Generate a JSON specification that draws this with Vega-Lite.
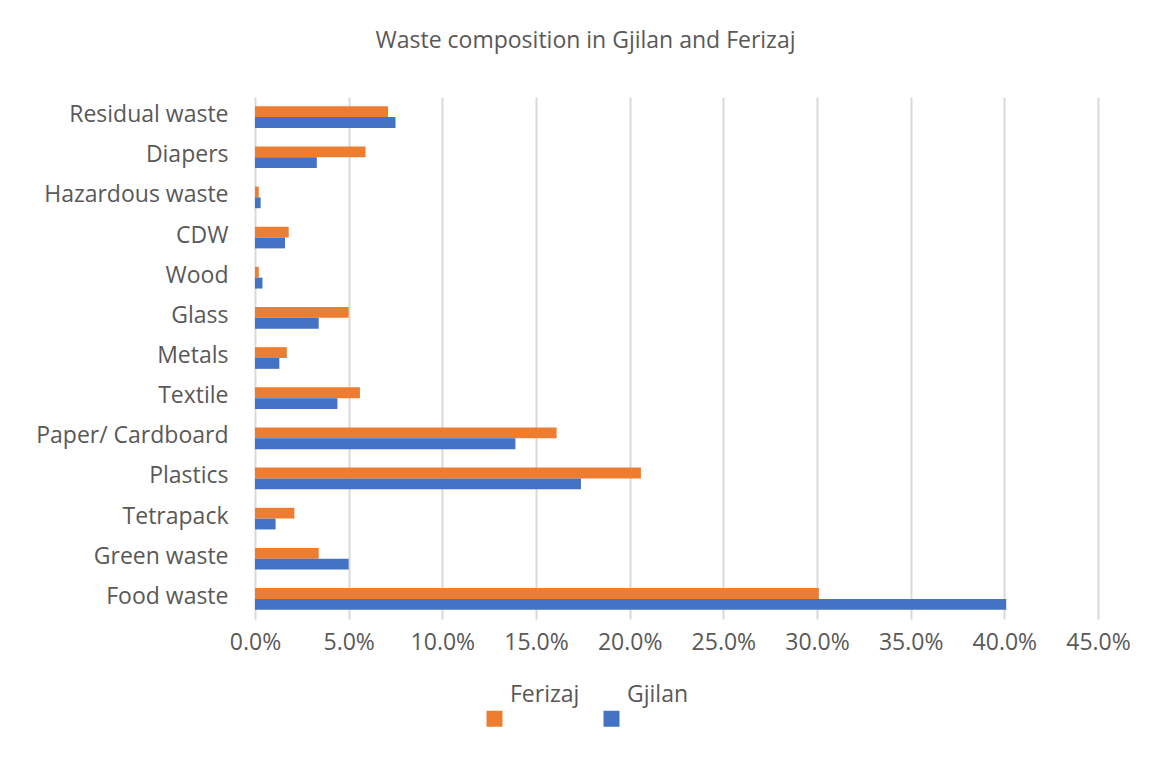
{
  "$schema": "https://vega.github.io/schema/vega-lite/v6.json",
  "autosize": {"type": "none"},
  "width": 843,
  "height": 522,
  "padding": {"left": 255, "top": 97, "right": 57, "bottom": 159},
  "background": "white",
  "title": {
    "text": "Waste composition in Gjilan and Ferizaj",
    "font": "Open Sans",
    "fontSize": 23,
    "fontWeight": "normal",
    "color": "#595959",
    "anchor": "middle",
    "dx": -91,
    "offset": 44
  },
  "data": {
    "values": [
      {"category": "Residual waste", "city": "Ferizaj", "value": 0.071},
      {"category": "Residual waste", "city": "Gjilan", "value": 0.075},
      {"category": "Diapers", "city": "Ferizaj", "value": 0.059},
      {"category": "Diapers", "city": "Gjilan", "value": 0.033},
      {"category": "Hazardous waste", "city": "Ferizaj", "value": 0.002},
      {"category": "Hazardous waste", "city": "Gjilan", "value": 0.003},
      {"category": "CDW", "city": "Ferizaj", "value": 0.018},
      {"category": "CDW", "city": "Gjilan", "value": 0.016},
      {"category": "Wood", "city": "Ferizaj", "value": 0.002},
      {"category": "Wood", "city": "Gjilan", "value": 0.004},
      {"category": "Glass", "city": "Ferizaj", "value": 0.05},
      {"category": "Glass", "city": "Gjilan", "value": 0.034},
      {"category": "Metals", "city": "Ferizaj", "value": 0.017},
      {"category": "Metals", "city": "Gjilan", "value": 0.013},
      {"category": "Textile", "city": "Ferizaj", "value": 0.056},
      {"category": "Textile", "city": "Gjilan", "value": 0.044},
      {"category": "Paper/ Cardboard", "city": "Ferizaj", "value": 0.161},
      {"category": "Paper/ Cardboard", "city": "Gjilan", "value": 0.139},
      {"category": "Plastics", "city": "Ferizaj", "value": 0.206},
      {"category": "Plastics", "city": "Gjilan", "value": 0.174},
      {"category": "Tetrapack", "city": "Ferizaj", "value": 0.021},
      {"category": "Tetrapack", "city": "Gjilan", "value": 0.011},
      {"category": "Green waste", "city": "Ferizaj", "value": 0.034},
      {"category": "Green waste", "city": "Gjilan", "value": 0.05},
      {"category": "Food waste", "city": "Ferizaj", "value": 0.301},
      {"category": "Food waste", "city": "Gjilan", "value": 0.401}
    ]
  },
  "mark": {"type": "bar", "cornerRadius": 0},
  "encoding": {
    "y": {
      "field": "category",
      "type": "nominal",
      "sort": ["Residual waste", "Diapers", "Hazardous waste", "CDW", "Wood", "Glass", "Metals", "Textile", "Paper/ Cardboard", "Plastics", "Tetrapack", "Green waste", "Food waste"],
      "scale": {"paddingInner": 0.46, "paddingOuter": 0.23},
      "axis": {
        "title": null,
        "ticks": false,
        "domain": false,
        "grid": false,
        "labelFont": "Open Sans",
        "labelFontSize": 23,
        "labelColor": "#595959",
        "labelPadding": 27,
        "labelOffset": -2,
        "labelLimit": 400
      }
    },
    "yOffset": {
      "field": "city",
      "type": "nominal",
      "sort": ["Ferizaj", "Gjilan"],
      "scale": {"paddingInner": 0, "paddingOuter": 0}
    },
    "x": {
      "field": "value",
      "type": "quantitative",
      "scale": {"domain": [0, 0.45], "nice": false},
      "axis": {
        "title": null,
        "values": [0, 0.05, 0.1, 0.15, 0.2, 0.25, 0.3, 0.35, 0.4, 0.45],
        "format": ".1%",
        "ticks": false,
        "domain": false,
        "grid": true,
        "gridColor": "#D9D9D9",
        "gridWidth": 2,
        "labelFlush": false,
        "labelFont": "Open Sans",
        "labelFontSize": 23,
        "labelColor": "#595959",
        "labelPadding": 12
      }
    },
    "color": {
      "field": "city",
      "type": "nominal",
      "sort": ["Ferizaj", "Gjilan"],
      "scale": {"domain": ["Ferizaj", "Gjilan"], "range": ["#ED7D31", "#4472C4"]},
      "legend": {
        "title": null,
        "orient": "none",
        "direction": "horizontal",
        "legendX": 228,
        "legendY": 610,
        "symbolType": "square",
        "symbolSize": 256,
        "symbolStrokeWidth": 0,
        "labelFont": "Open Sans",
        "labelFontSize": 23,
        "labelColor": "#595959",
        "labelBaseline": "middle",
        "labelOffset": 4,
        "columnPadding": 20,
        "encode": {
          "labels": {"update": {"dy": {"value": -24}}}
        }
      }
    }
  },
  "config": {
    "view": {"stroke": null}
  }
}
